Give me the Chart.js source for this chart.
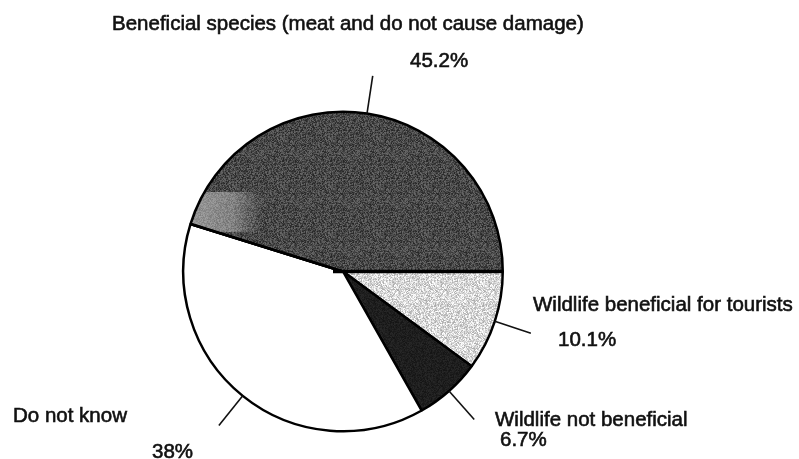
<!DOCTYPE html>
<html>
<head>
<meta charset="utf-8">
<script src="https://cdn.jsdelivr.net/npm/chart.js@4"></script>
<style>
  html, body { margin: 0; padding: 0; background: #fff; }
  canvas { display: block; }
</style>
</head>
<body>
<canvas id="pieChart" width="799" height="459"></canvas>
<script>
// slices, clockwise from 3 o'clock
const categories = ["Wildlife beneficial for tourists", "Wildlife not beneficial", "Do not know", "Beneficial species (meat and do not cause damage)"];
const shares = [10.1, 6.7, 38, 45.2];
const shareLabels = ["10.1%", "6.7%", "38%", "45.2%"];

// speckled fill, like the scanned shading
function speckle(base, spread, seed) {
    const c = document.createElement("canvas");
    c.width = 48; c.height = 48;
    const g = c.getContext("2d");
    const img = g.createImageData(48, 48);
    for (let i = 0; i < 48 * 48; i++) {
        const h = Math.sin((i + seed) * 12.9898) * 43758.5453;
        const n = (h - Math.floor(h)) - 0.5;
        const v = Math.max(0, Math.min(255, Math.round(base + n * spread)));
        img.data[i * 4] = v; img.data[i * 4 + 1] = v; img.data[i * 4 + 2] = v; img.data[i * 4 + 3] = 255;
    }
    g.putImageData(img, 0, 0);
    return g.createPattern(c, "repeat");
}

const fills = [speckle(215, 90, 3), speckle(30, 20, 7), "#ffffff", speckle(72, 70, 11)];

// where each slice's text sits (left edge, middle of the line)
const labelPlaces = [
    [{ x: 533, y: 305 }, { x: 558, y: 340 }],
    [{ x: 495, y: 420 }, { x: 500, y: 440 }],
    [{ x: 13, y: 416 }, { x: 152, y: 452 }],
    [{ x: 112, y: 24 }, { x: 410, y: 61 }]
];

const calloutPlugin = {
    id: "callouts",
    afterDatasetsDraw(chart) {
        const ctx = chart.ctx;
        const arcs = chart.getDatasetMeta(0).data;

        // lighter smudge near the left rim of the big slice
        const big = arcs[3].getProps(["x", "y", "startAngle", "endAngle", "outerRadius"], true);
        ctx.save();
        ctx.beginPath();
        ctx.moveTo(big.x, big.y);
        ctx.arc(big.x, big.y, big.outerRadius - 1.5, big.startAngle + 0.01, big.endAngle);
        ctx.closePath();
        ctx.clip();
        const grad = ctx.createLinearGradient(190, 0, 262, 0);
        grad.addColorStop(0, "rgba(215,215,215,0.55)");
        grad.addColorStop(0.6, "rgba(215,215,215,0.4)");
        grad.addColorStop(1, "rgba(215,215,215,0)");
        ctx.fillStyle = grad;
        ctx.fillRect(180, 192, 85, 40);
        ctx.restore();

        // redraw the slice edges on top
        ctx.save();
        ctx.strokeStyle = "#000";
        ctx.lineWidth = 3.5;
        ctx.beginPath();
        ctx.moveTo(big.x - 10, big.y);
        ctx.lineTo(big.x + big.outerRadius, big.y);
        ctx.stroke();
        ctx.lineWidth = 2.5;
        ctx.beginPath();
        ctx.moveTo(big.x, big.y);
        ctx.lineTo(big.x + Math.cos(big.startAngle) * big.outerRadius, big.y + Math.sin(big.startAngle) * big.outerRadius);
        ctx.stroke();
        ctx.restore();

        ctx.save();
        ctx.strokeStyle = "#111";
        ctx.fillStyle = "#111";
        ctx.font = "20.5px 'Liberation Sans', Arial, sans-serif";
        ctx.textBaseline = "middle";
        ctx.textAlign = "left";
        arcs.forEach((arc, i) => {
            const p = arc.getProps(["x", "y", "startAngle", "endAngle", "outerRadius"], true);
            const mid = (p.startAngle + p.endAngle) / 2;
            const r0 = p.outerRadius;
            const r1 = p.outerRadius + 38;
            ctx.lineWidth = 1.6;
            ctx.beginPath();
            ctx.moveTo(p.x + Math.cos(mid) * r0, p.y + Math.sin(mid) * r0);
            ctx.lineTo(p.x + Math.cos(mid) * r1, p.y + Math.sin(mid) * r1);
            ctx.stroke();
            const [nameAt, pctAt] = labelPlaces[i];
            ctx.lineWidth = 0.6;
            ctx.fillText(categories[i], nameAt.x, nameAt.y);
            ctx.strokeText(categories[i], nameAt.x, nameAt.y);
            ctx.fillText(shareLabels[i], pctAt.x, pctAt.y);
            ctx.strokeText(shareLabels[i], pctAt.x, pctAt.y);
        });
        ctx.restore();
    }
};

new Chart(document.getElementById("pieChart").getContext("2d"), {
    type: "pie",
    data: {
        labels: categories,
        datasets: [{
            data: shares,
            backgroundColor: fills,
            borderColor: "#000",
            borderWidth: 2.5
        }]
    },
    options: {
        responsive: false,
        animation: false,
        rotation: 90,
        layout: { padding: { left: 182, right: 295, top: 110, bottom: 26 } },
        plugins: {
            legend: { display: false },
            tooltip: { enabled: false }
        }
    },
    plugins: [calloutPlugin]
});
</script>
</body>
</html>
